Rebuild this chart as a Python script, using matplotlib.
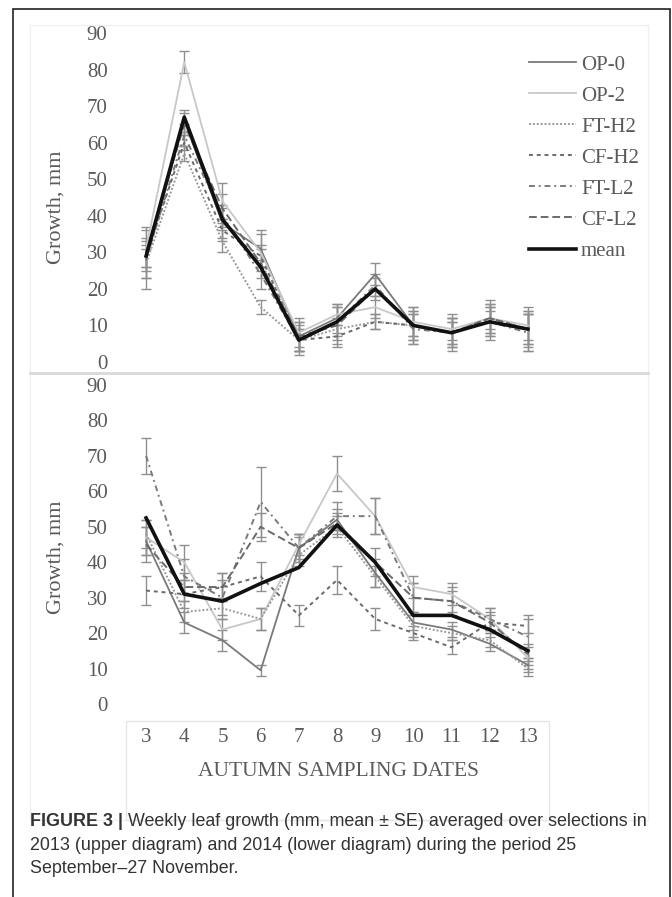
import matplotlib.pyplot as plt
from matplotlib.patches import Rectangle
from matplotlib.lines import Line2D
from matplotlib.text import Annotation

# Даты отбора и названия серий
dates = [3, 4, 5, 6, 7, 8, 9, 10, 11, 12, 13]
names = ['OP-0', 'OP-2', 'FT-H2', 'CF-H2', 'FT-L2', 'CF-L2', 'mean']

# 2013 (верхняя диаграмма)
op0_2013 = [28, 66, 38, 31, 7, 12, 24, 10, 8, 11, 9]
op2_2013 = [31, 82, 44, 30, 8, 13, 15, 11, 9, 12, 10]
fth2_2013 = [27, 57, 33, 15, 6, 9, 11, 10, 8, 11, 9]
cfh2_2013 = [29, 60, 36, 29, 6, 7, 11, 10, 8, 12, 9]
ftl2_2013 = [28, 62, 40, 24, 6, 11, 21, 9, 8, 11, 8]
cfl2_2013 = [30, 65, 42, 27, 7, 10, 20, 10, 8, 12, 9]
mean_2013 = [29, 67, 39, 26, 6, 11, 20, 10, 8, 11, 9]

op0_err_2013 = [8, 3, 4, 5, 4, 4, 3, 4, 4, 4, 5]
op2_err_2013 = [6, 3, 5, 5, 4, 3, 3, 4, 3, 4, 4]
fth2_err_2013 = [4, 2, 3, 2, 3, 3, 2, 3, 3, 3, 4]
cfh2_err_2013 = [3, 2, 3, 3, 3, 3, 2, 4, 3, 3, 4]
ftl2_err_2013 = [5, 3, 3, 4, 4, 4, 3, 4, 4, 5, 5]
cfl2_err_2013 = [4, 3, 4, 4, 4, 5, 3, 5, 5, 5, 6]

# 2014 (нижняя диаграмма)
op0_2014 = [46, 23, 18, 9.5, 44, 52, 37, 23, 21, 17, 11]
op2_2014 = [47, 40, 21, 24, 45, 65, 53, 33, 31, 24, 13]
fth2_2014 = [48, 26, 27, 24, 42, 50, 36, 22, 20, 18, 10]
cfh2_2014 = [32, 31, 33, 36, 25, 35, 24, 20, 16, 23, 22]
ftl2_2014 = [70, 36, 30, 57, 44, 53, 53, 30, 29, 24, 19]
cfl2_2014 = [45, 33, 33, 50, 44, 51, 40, 30, 29, 23, 14]
mean_2014 = [52.5, 31, 29, 34, 38.5, 50.5, 40, 25, 25, 21, 15]

op0_err_2014 = [4, 3, 3, 1.5, 4, 3, 4, 2, 2, 2, 2]
op2_err_2014 = [5, 5, 3, 3, 3, 5, 5, 3, 3, 3, 3]
fth2_err_2014 = [4, 3, 3, 3, 3, 3, 3, 3, 2, 2, 2]
cfh2_err_2014 = [4, 4, 4, 4, 3, 4, 3, 2, 2, 2, 2]
ftl2_err_2014 = [5, 5, 5, 10, 4, 4, 5, 4, 3, 3, 6]
cfl2_err_2014 = [5, 4, 4, 4, 3, 3, 4, 4, 4, 3, 3]

W, H = 672, 897
serif = 'Liberation Serif'
tick_col = '#5a5a5a'
cap_col = '#333333'
styles = [
    dict(color='#7a7a7a', ls='-', lw=1.3),
    dict(color='#c8c8c8', ls='-', lw=1.3),
    dict(color='#9a9a9a', ls=(0, (1, 1)), lw=1.4),
    dict(color='#6a6a6a', ls=(0, (2, 2)), lw=1.4),
    dict(color='#7a7a7a', ls=(0, (3, 2, 1, 2)), lw=1.4),
    dict(color='#6a6a6a', ls=(0, (4, 2)), lw=1.4),
    dict(color='#111111', ls='-', lw=2.6),
]


# пиксели от левого верхнего угла -> доли фигуры
def px(x, y):
    return x / W, 1 - y / H


def draw_panel(ax, values, errors):
    for i, vals in enumerate(values):
        st = styles[i]
        if i < len(errors):
            ax.errorbar(dates, vals, yerr=errors[i], fmt='none', ecolor='#8f8f8f',
                        elinewidth=1.0, capsize=3.6, capthick=1.0, clip_on=False, zorder=2)
        ax.plot(dates, vals, color=st['color'], linestyle=st['ls'], linewidth=st['lw'],
                clip_on=False, zorder=5 if i == 6 else 3)
    ax.set_xlim(2.5, 13.5)
    ax.set_ylim(0, 90)
    ax.set_yticks(range(0, 91, 10))
    ax.set_xticks(dates)
    for s in ax.spines.values():
        s.set_visible(False)
    ax.tick_params(length=0, colors=tick_col, labelsize=15)
    ax.tick_params(axis='y', pad=14)
    ax.tick_params(axis='x', pad=17)
    for lab in ax.get_xticklabels() + ax.get_yticklabels():
        lab.set_fontfamily(serif)
    ax.patch.set_alpha(0)


fig = plt.figure(figsize=(W / 100, H / 100), dpi=100)

# рамка и светлые границы областей диаграмм
fig.add_artist(Rectangle(px(13, 905), 657 / W, 896 / H, transform=fig.transFigure,
                         fill=False, edgecolor='#222222', linewidth=1.2))
fig.add_artist(Rectangle(px(30, 373), 618 / W, 348 / H, transform=fig.transFigure,
                         fill=False, edgecolor='#f0f0f0', linewidth=1.0))
fig.add_artist(Rectangle(px(30, 820), 618 / W, 447 / H, transform=fig.transFigure,
                         fill=False, edgecolor='#f0f0f0', linewidth=1.0))
fig.add_artist(Line2D([30 / W, 648 / W], [1 - 373 / H, 1 - 373 / H], transform=fig.transFigure,
                      color='#d9d9d9', linewidth=2.0))
fig.add_artist(Rectangle(px(126, 820), 423 / W, 99 / H, transform=fig.transFigure,
                         fill=False, edgecolor='#e6e6e6', linewidth=1.0))

l, b = px(127, 362)
ax1 = fig.add_axes([l, b, 420 / W, 329 / H])
draw_panel(ax1,
           [op0_2013, op2_2013, fth2_2013, cfh2_2013, ftl2_2013, cfl2_2013, mean_2013],
           [op0_err_2013, op2_err_2013, fth2_err_2013, cfh2_err_2013, ftl2_err_2013, cfl2_err_2013])
ax1.set_xticklabels([])

l, b = px(127, 704)
ax2 = fig.add_axes([l, b, 420 / W, 319 / H])
draw_panel(ax2,
           [op0_2014, op2_2014, fth2_2014, cfh2_2014, ftl2_2014, cfl2_2014, mean_2014],
           [op0_err_2014, op2_err_2014, fth2_err_2014, cfh2_err_2014, ftl2_err_2014, cfl2_err_2014])

fig.text(*px(56, 207), 'Growth, mm', rotation=90, ha='center', va='center',
         family=serif, fontsize=16, color=tick_col)
fig.text(*px(56, 557), 'Growth, mm', rotation=90, ha='center', va='center',
         family=serif, fontsize=16, color=tick_col)
fig.text(*px(338, 771), 'AUTUMN SAMPLING DATES', ha='center', va='center',
         family=serif, fontsize=15.5, color=tick_col)

handles = [Line2D([], [], color=st['color'], linestyle=st['ls'], linewidth=st['lw']) for st in styles]
ax1.legend(handles, names, loc='upper left', bbox_to_anchor=px(529, 55),
           bbox_transform=fig.transFigure, frameon=False, borderpad=0, borderaxespad=0,
           handlelength=2.25, handletextpad=0.25, labelspacing=0.55,
           prop=dict(family=serif, size=15), labelcolor=tick_col)

# подпись к рисунку
cap_size = 12.9
t1 = fig.text(*px(30, 822), 'FIGURE 3 |', ha='left', va='center', family='Liberation Sans',
              fontweight='bold', fontsize=cap_size, color=cap_col)
fig.add_artist(Annotation(' Weekly leaf growth (mm, mean \u00b1 SE) averaged over selections in',
                          xy=(1, 0), xycoords=t1, ha='left', va='bottom',
                          family='Liberation Sans', fontsize=cap_size, color=cap_col))
fig.text(*px(30, 845), '2013 (upper diagram) and 2014 (lower diagram) during the period 25',
         ha='left', va='center', family='Liberation Sans', fontsize=cap_size, color=cap_col)
fig.text(*px(30, 868), 'September\u201327 November.', ha='left', va='center',
         family='Liberation Sans', fontsize=cap_size, color=cap_col)

plt.savefig('out.png', dpi=100)
